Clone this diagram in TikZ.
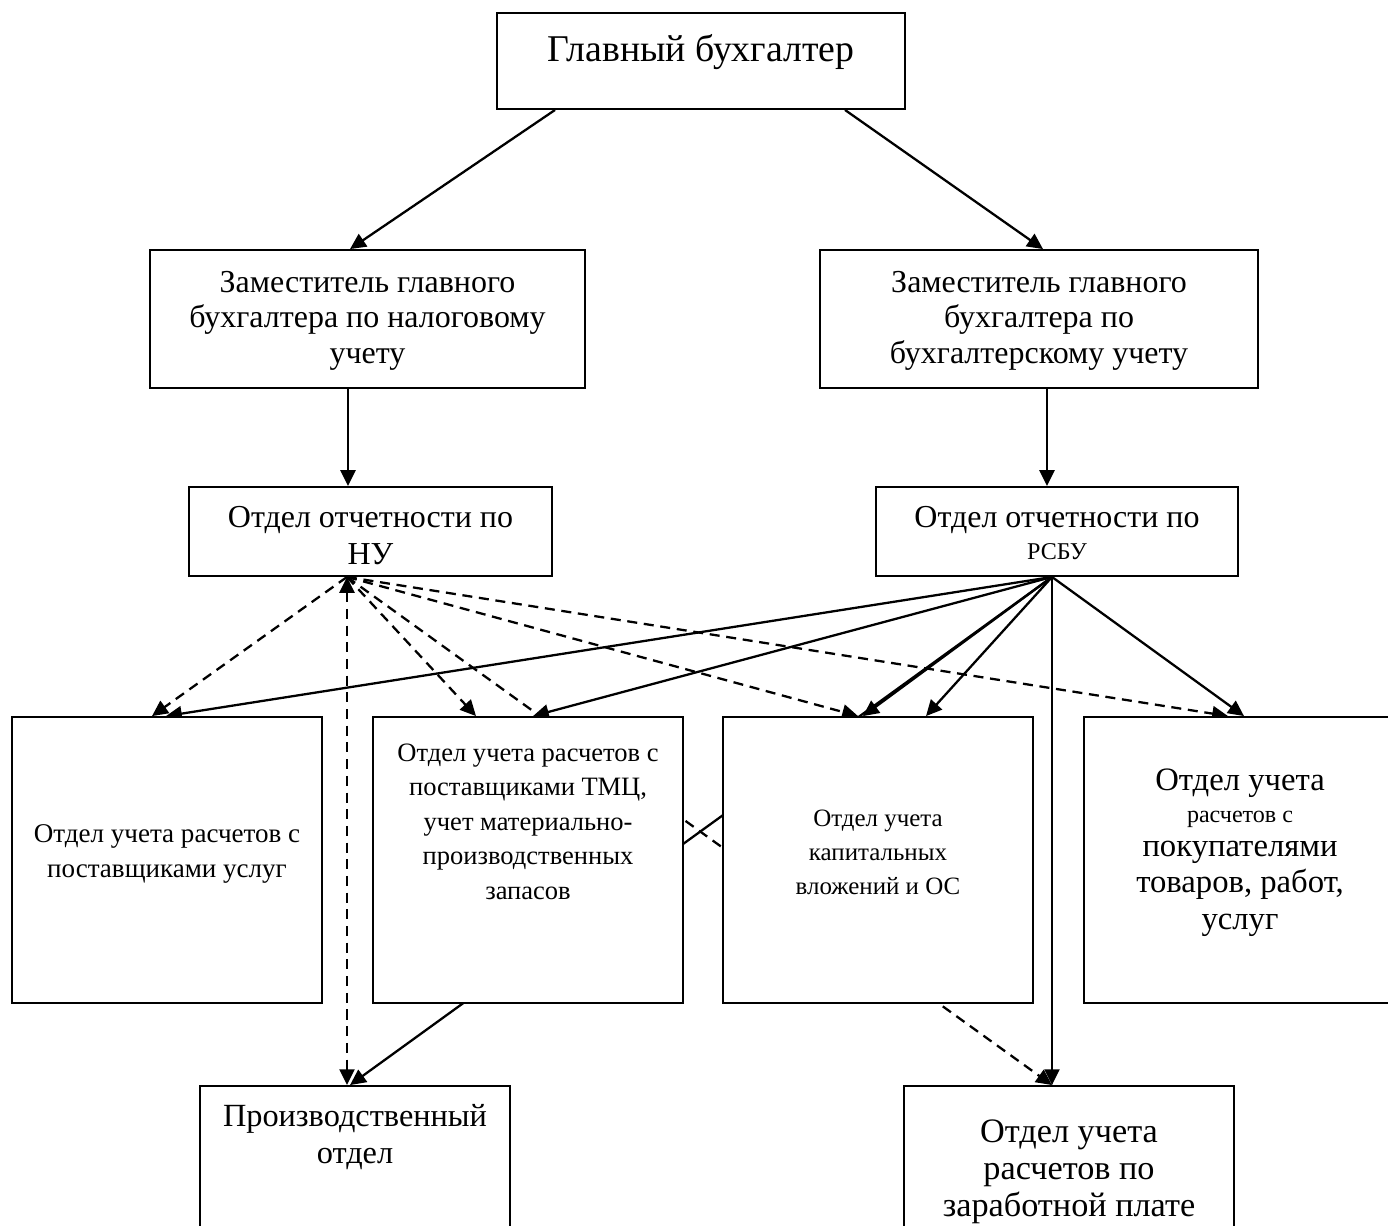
\documentclass[tikz,border=0pt]{standalone}
\usepackage{fontspec}
\setmainfont{Liberation Serif}
\usetikzlibrary{arrows.meta,backgrounds}
\newcommand\fs[2]{\fontsize{#1}{#2}\selectfont}
\tikzset{
  box/.style={draw,fill=white,line width=1.1pt,inner sep=0pt,align=center},
  link/.style={->,line width=1.3pt},
  dlink/.style={link,dash pattern=on 5.7pt off 3.8pt},
}
\begin{document}
\begin{tikzpicture}[>={Triangle[length=9pt,width=8.5pt]},x=0.02cm,y=-0.02cm]
\useasboundingbox (0,0) rectangle (1388,1225);
\clip (0,0) rectangle (1388,1225);
\node[box,minimum width=8.16cm,text height=0.96cm,text depth=0.96cm,font=\fs{21.5}{25}] (glav) at (701,61) {Главный бухгалтер};
\node[box,minimum width=8.7cm,text height=2.26cm,text depth=0.5cm,font=\fs{18.2}{20.2}] (zamnu) at (367.5,319) {Заместитель главного\\бухгалтера по налоговому\\учету};
\node[box,minimum width=8.76cm,text height=2.26cm,text depth=0.5cm,font=\fs{18.2}{20.2}] (zambu) at (1039,319) {Заместитель главного\\бухгалтера по\\бухгалтерскому учету};
\node[box,minimum width=7.26cm,text height=1.54cm,text depth=0.24cm,font=\fs{18.2}{20.5}] (otnu) at (370.5,531.5) {Отдел отчетности по\\НУ};
\node[box,minimum width=7.24cm,text height=1.44cm,text depth=0.34cm,font=\fs{18.2}{20.5}] (otbu) at (1057,531.5) {Отдел отчетности по\\[-2.8pt]{\fs{13.7}{16}РСБУ}};
\node[box,minimum width=6.2cm,text height=3.2cm,text depth=2.52cm,font=\fs{15.4}{19.9}] (postusl) at (167,860) {Отдел учета расчетов с\\поставщиками услуг};
\node[box,minimum width=6.2cm,text height=3.64cm,text depth=2.08cm,font=\fs{15.1}{19.6}] (posttmc) at (528,860) {Отдел учета расчетов с\\поставщиками ТМЦ,\\учет материально-\\производственных\\запасов};
\node[box,minimum width=6.2cm,text height=3.54cm,text depth=2.18cm,font=\fs{14.2}{19.1}] (kapvl) at (878,860) {Отдел учета\\капитальных\\вложений и ОС};
\node[box,minimum width=6.24cm,text height=4.24cm,text depth=1.48cm,font=\fs{18.6}{20.5}] (pokup) at (1240,860) {Отдел учета\\[-2.3pt]{\fs{13.7}{16}расчетов с}\\[-1.1pt]покупателями\\товаров, работ,\\услуг};
\node[box,minimum width=6.2cm,text height=1.54cm,text depth=2.74cm,font=\fs{18.4}{21}] (proizv) at (355,1193) {Производственный\\отдел};
\node[box,minimum width=6.6cm,text height=2.6cm,text depth=1.68cm,font=\fs{19.5}{20.8}] (zarpl) at (1069,1193) {Отдел учета\\расчетов по\\заработной плате};
\begin{scope}[on background layer]
\draw[link] ([shift={(-146,0)}]glav.south) -- ([shift={(-17.5,0)}]zamnu.north);
\draw[link] ([shift={(144,0)}]glav.south) -- ([shift={(4,0)}]zambu.north);
\draw[link] ([shift={(-19.5,0)}]zamnu.south) -- ([shift={(-22.5,0)}]otnu.north);
\draw[link] ([shift={(8,0)}]zambu.south) -- ([shift={(-10,0)}]otbu.north);
\coordinate (nuo) at ([shift={(-23.5,0)}]otnu.south);
\coordinate (buo) at ([shift={(-5,0)}]otbu.south);
% NU
\draw[dlink] (nuo) -- ([shift={(-15,0)}]postusl.north);
\draw[dlink,<->] (nuo) -- ([shift={(-8,0)}]proizv.north);
\draw[dlink] (nuo) -- ([shift={(-52,0)}]posttmc.north);
\draw[dlink] (nuo) -- ([shift={(-20,0)}]kapvl.north);
\draw[dlink] (nuo) -- ([shift={(-12,0)}]pokup.north);
\draw[dlink] (nuo) -- ([shift={(-17,0)}]zarpl.north);
% RSBU
\draw[link] (buo) -- ([shift={(-1,0)}]postusl.north);
\draw[link] (buo) -- ([shift={(5,0)}]posttmc.north);
\draw[link] (buo) -- ([shift={(-15,0)}]kapvl.north);
\draw[link] (buo) -- ([shift={(48,0)}]kapvl.north);
\draw[link] (buo) -- ([shift={(4,0)}]pokup.north);
\draw[link] (buo) -- ([shift={(-17,0)}]zarpl.north);
\draw[link] (buo) -- ([shift={(-5,0)}]proizv.north);
\end{scope}
\end{tikzpicture}
\end{document}
